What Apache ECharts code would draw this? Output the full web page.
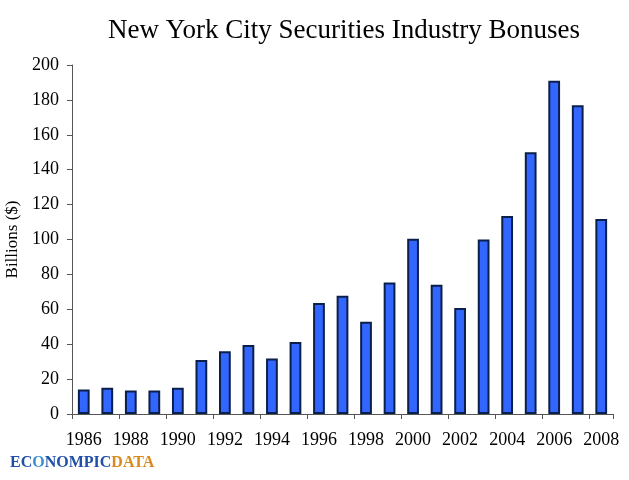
<!DOCTYPE html>
<html>
<head>
<meta charset="utf-8">
<script src="https://cdn.jsdelivr.net/npm/echarts@6/dist/echarts.min.js"></script>
<style>
  html, body { margin: 0; padding: 0; background: #fff; }
  #chart-container { width: 629px; height: 480px; }
</style>
</head>
<body>
<div id="chart-container"></div>
<script>
const years = [
  "1986", "1987", "1988", "1989", "1990", "1991", "1992", "1993",
  "1994", "1995", "1996", "1997", "1998", "1999", "2000", "2001",
  "2002", "2003", "2004", "2005", "2006", "2007", "2008",
];
const bonuses = [
  14, 15, 13.5, 13.5, 15, 31, 36, 39.5, 31.8, 41.3, 63.6, 67.8,
  52.8, 75.3, 100.4, 74, 60.8, 100, 113.5, 150, 191, 177, 111.7,
];
const yTicks = [0, 20, 40, 60, 80, 100, 120, 140, 160, 180, 200];

const serif = "'Liberation Serif', 'DejaVu Serif', serif";

const dom = document.getElementById("chart-container");
const myChart = echarts.init(dom, null, { renderer: "canvas" });

const option = {
  backgroundColor: "#ffffff",
  animation: false,
  title: {
    text: "New York City Securities Industry Bonuses",
    left: 339,
    top: 12,
    textAlign: "center",
    textStyle: {
      fontFamily: serif,
      fontWeight: "normal",
      fontSize: 27,
      color: "#000",
    },
  },
  grid: {
    left: 72,
    right: 16,
    top: 65,
    bottom: 66,
    containLabel: false,
    outerBoundsMode: "none",
  },
  xAxis: {
    type: "category",
    data: years,
    boundaryGap: true,
    axisLine: { lineStyle: { color: "#555", width: 1 } },
    axisTick: { show: true, alignWithLabel: false, length: 5, lineStyle: { color: "#555" } },
    axisLabel: {
      interval: 1,
      margin: 17,
      fontFamily: serif,
      fontSize: 18,
      color: "#000",
    },
  },
  yAxis: {
    type: "value",
    min: yTicks[0],
    max: yTicks[yTicks.length - 1],
    interval: 20,
    name: "Billions ($)",
    nameLocation: "middle",
    nameGap: 49,
    nameRotate: 90,
    nameTextStyle: {
      fontFamily: serif,
      fontSize: 17,
      color: "#000",
    },
    axisLine: { show: true, lineStyle: { color: "#555", width: 1 } },
    axisTick: { show: true, length: 5, lineStyle: { color: "#555" } },
    splitLine: { show: false },
    axisLabel: {
      margin: 13,
      fontFamily: serif,
      fontSize: 18,
      color: "#000",
    },
  },
  series: [
    {
      name: "Bonuses",
      type: "bar",
      data: bonuses,
      barWidth: "50%",
      itemStyle: {
        color: "#3366ff",
        borderColor: "#0a1f4a",
        borderWidth: 2,
      },
    },
  ],
  graphic: [
    {
      type: "text",
      left: 10,
      top: 455,
      style: {
        text: "{b|EC}{g|O}{b|NOMPIC}{o|DATA}",
        rich: {
          b: { fontFamily: serif, fontWeight: "bold", fontSize: 16, fill: "#1f4fa8" },
          g: { fontFamily: serif, fontWeight: "bold", fontSize: 16, fill: "#3a8fd0" },
          o: { fontFamily: serif, fontWeight: "bold", fontSize: 16, fill: "#d98a1c" },
        },
      },
    },
  ],
};

if (option && typeof option === "object") {
  myChart.setOption(option);
}

window.addEventListener("resize", myChart.resize);
</script>
</body>
</html>
